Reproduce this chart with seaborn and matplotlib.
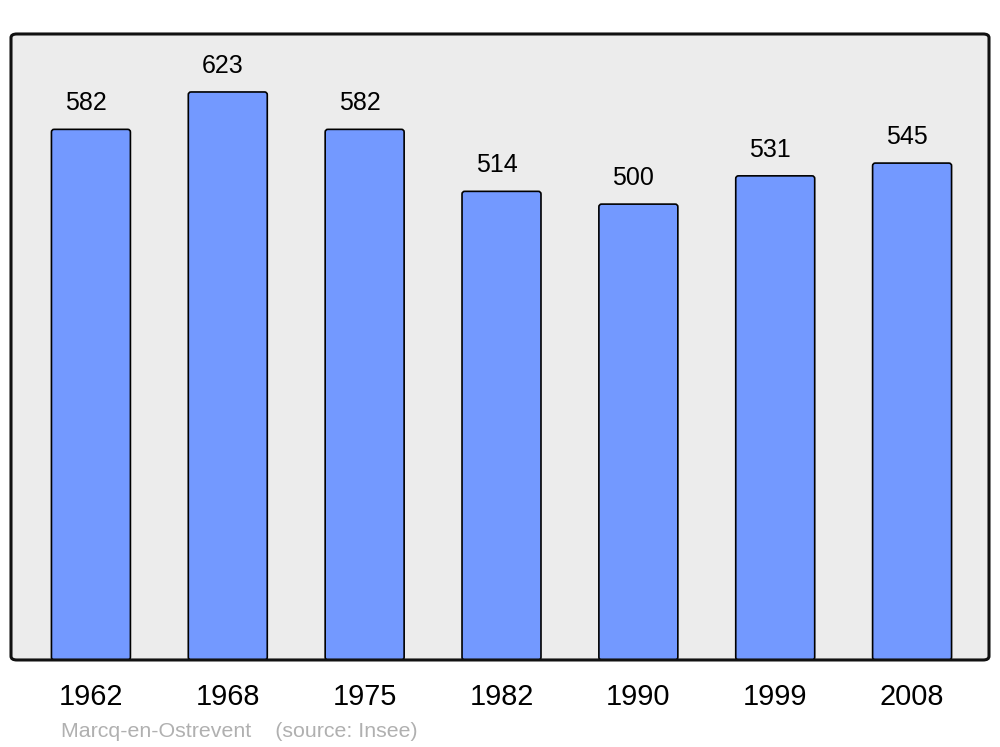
import matplotlib
matplotlib.use("Agg")
import matplotlib.pyplot as plt
import seaborn as sns
import pandas as pd
from matplotlib.patches import FancyBboxPatch

# donnees population
annees = ["1962", "1968", "1975", "1982", "1990", "1999", "2008"]
population = [582, 623, 582, 514, 500, 531, 545]
source = "Marcq-en-Ostrevent    (source: Insee)"

df = pd.DataFrame({"annee": annees, "pop": population})

sns.set_style("white")
plt.rcParams['font.family'] = ['Liberation Sans', 'DejaVu Sans']

fig = plt.figure(figsize=(10, 7.47), dpi=100)
ax = fig.add_axes([0.011, 0.1165, 0.978, 0.838])
ax.set_facecolor("#ececec")

sns.barplot(data=df, x="annee", y="pop", color="#7399ff", saturation=1,
            width=0.577, edgecolor="black", linewidth=1.2, ax=ax)

ax.set_xlim(-0.584, 6.562)
ax.set_ylim(0, 686.6)
ax.set_xlabel("")
ax.set_ylabel("")
ax.set_yticks([])
ax.tick_params(axis="x", length=0, pad=16.6, labelsize=20.8, colors="black")

for c in ax.containers:
    labels = ax.bar_label(c, padding=10, fontsize=18, color="black")
    for t in labels:
        t.xyann = (-3.6, 10)

# coins arrondis des barres
aspect = (686.6 / 626) / (7.146 / 978)
for p in list(ax.patches):
    x0, y0 = p.get_x(), p.get_y()
    w, h = p.get_width(), p.get_height()
    p.set_visible(False)
    ax.add_patch(FancyBboxPatch((x0, y0), w, h, boxstyle="round,pad=0,rounding_size=0.02",
                                mutation_aspect=aspect, facecolor="#7399ff",
                                edgecolor="black", linewidth=1.2, zorder=3))

# cadre arrondi
for s in ax.spines.values():
    s.set_visible(False)
cadre = FancyBboxPatch((0, 0), 1, 1, boxstyle="round,pad=0,rounding_size=0.006",
                       transform=ax.transAxes, facecolor="none",
                       edgecolor="#111111", linewidth=2.2, clip_on=False, zorder=5)
ax.add_patch(cadre)

fig.text(0.061, 0.008, source, fontsize=15.4, color="#b0b0b0", ha="left", va="bottom")

plt.savefig("out.png", dpi=100)
plt.close()
